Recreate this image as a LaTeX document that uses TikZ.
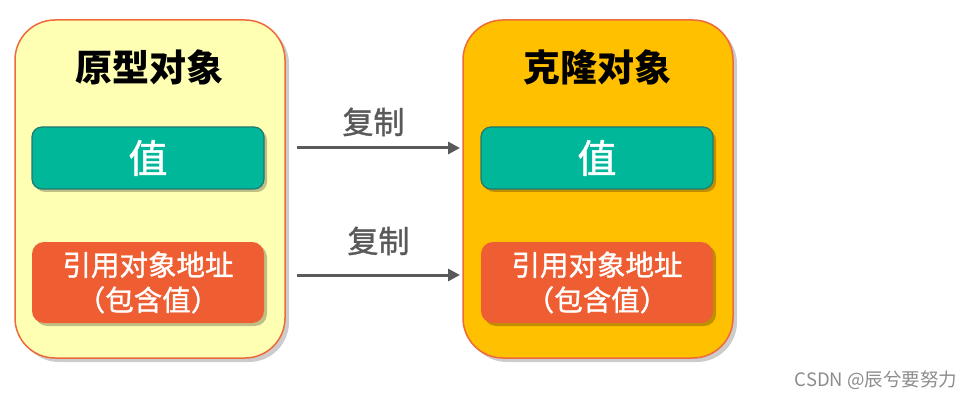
\documentclass[tikz,border=0pt]{standalone}
\usepackage{fontspec}
\setmainfont{Noto Sans CJK SC}
\newfontfamily\medfont{Noto Sans CJK SC}[FakeBold=1.2]
\usetikzlibrary{arrows.meta, shadows}

\definecolor{paleyellow}{HTML}{FFFFB4}
\definecolor{amber}{HTML}{FFC000}
\definecolor{borderred}{HTML}{EE6A3A}
\definecolor{tealgreen}{HTML}{00B899}
\definecolor{tealedge}{HTML}{1F7A70}
\definecolor{tomato}{HTML}{EF5D33}
\definecolor{arrowgrey}{HTML}{595959}

\begin{document}
\begin{tikzpicture}[x=1pt, y=-1pt,
    objbox/.style={draw=borderred, line width=1.5pt, rounded corners=40pt,
      minimum width=270pt, minimum height=338pt,
      drop shadow={shadow xshift=4pt, shadow yshift=-4pt, opacity=0.2, fill=black}},
    valbox/.style={fill=tealgreen, draw=tealedge, line width=1.2pt, rounded corners=10pt,
      minimum width=232pt, minimum height=62pt, text=white,
      font=\medfont\fontsize{39}{42}\selectfont,
      drop shadow={shadow xshift=3pt, shadow yshift=-3pt, opacity=0.25, fill=black}},
    refbox/.style={fill=tomato, rounded corners=12pt,
      minimum width=232pt, minimum height=81pt, text=white, align=center,
      font=\medfont\fontsize{28.5}{35}\selectfont,
      drop shadow={shadow xshift=3pt, shadow yshift=-3pt, opacity=0.25, fill=black}},
    titletext/.style={font=\fontsize{37}{42}\selectfont\bfseries},
    copyarrow/.style={draw=arrowgrey, line width=3pt,
      -{Triangle[length=12pt, width=12pt]}},
    copytext/.style={text=arrowgrey, font=\medfont\fontsize{31}{34}\selectfont}]
  \useasboundingbox (0,0) rectangle (974,398);

  % prototype object
  \node[objbox, fill=paleyellow] (orig) at (150,189) {};
  \node[titletext] (origtitle) at (149,67) {原型对象};
  \node[valbox] (origval) at (148,158) {值};
  \node[refbox] (origref) at (148,282.5) {引用对象地址\\（包含值）};

  % cloned object
  \node[objbox, fill=amber] (clone) at (598,189) {};
  \node[titletext] (clonetitle) at (597,67) {克隆对象};
  \node[valbox] (cloneval) at (597,158) {值};
  \node[refbox] (cloneref) at (597,282.5) {引用对象地址\\（包含值）};

  % copy arrows
  \coordinate (a1) at (297,148);
  \coordinate (b1) at (460,148);
  \coordinate (a2) at (297,275);
  \coordinate (b2) at (460,275);
  \draw[copyarrow] (a1) -- (b1) node[copytext, midway, above=7pt, xshift=-5pt] (copy1) {复制};
  \draw[copyarrow] (a2) -- (b2) node[copytext, midway, above=15pt] (copy2) {复制};

  \node[text=black!45, font=\fontsize{18.5}{20}\selectfont, anchor=east] (mark) at (961,380) {CSDN @辰兮要努力};
\end{tikzpicture}
\end{document}
